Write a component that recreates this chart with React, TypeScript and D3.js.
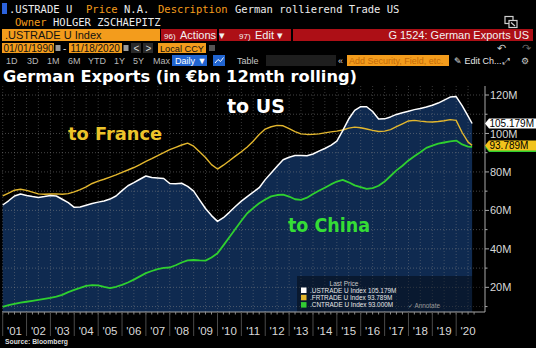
import React from "react";
import * as d3 from "d3";

// ---------- data (quarterly points, €bn 12-month rolling) ----------
const dates: string[] = [
  "2001-01","2001-04","2001-07","2001-10","2002-01","2002-04","2002-07","2002-10",
  "2003-01","2003-04","2003-07","2003-10","2004-01","2004-04","2004-07","2004-10",
  "2005-01","2005-04","2005-07","2005-10","2006-01","2006-04","2006-07","2006-10",
  "2007-01","2007-04","2007-07","2007-10","2008-01","2008-04","2008-07","2008-10",
  "2009-01","2009-04","2009-07","2009-10","2010-01","2010-04","2010-07","2010-10",
  "2011-01","2011-04","2011-07","2011-10","2012-01","2012-04","2012-07","2012-10",
  "2013-01","2013-04","2013-07","2013-10","2014-01","2014-04","2014-07","2014-10",
  "2015-01","2015-04","2015-07","2015-10","2016-01","2016-04","2016-07","2016-10",
  "2017-01","2017-04","2017-07","2017-10","2018-01","2018-04","2018-07","2018-10",
  "2019-01","2019-04","2019-07","2019-10","2020-01","2020-04","2020-07","2020-09",
];

const usValues: number[] = [
  62.8, 65.0, 67.5, 68.5, 67.8, 67.2, 66.7, 67.2,
  67.8, 67.5, 65.8, 64.0, 61.6, 61.8, 62.7, 63.6,
  64.3, 64.9, 65.9, 67.5, 70.3, 72.8, 74.4, 76.2,
  77.9, 77.1, 76.9, 76.6, 74.0, 73.8, 74.1, 72.5,
  70.0, 65.5, 61.0, 57.3, 54.3, 56.2, 59.0, 62.0,
  64.8, 67.2, 69.5, 71.8, 76.0, 79.5, 83.0, 86.3,
  87.6, 88.5, 88.5, 88.4, 89.3, 90.8, 92.2, 93.8,
  96.0, 101.5, 107.5, 112.0, 113.9, 113.9, 111.4, 107.5,
  107.6, 108.6, 109.9, 110.8, 111.6, 112.4, 113.0, 113.8,
  114.7, 115.8, 117.3, 118.9, 119.2, 114.5, 109.0, 105.179,
];

const frValues: number[] = [
  67.5, 69.0, 70.5, 71.0, 70.4, 69.5, 68.6, 68.4,
  68.5, 68.6, 68.4, 68.7, 69.6, 70.8, 72.2, 74.0,
  75.2, 76.2, 77.3, 78.5, 79.8, 81.0, 82.3, 83.8,
  85.5, 86.9, 88.5, 90.0, 91.6, 92.8, 94.0, 95.0,
  93.4, 90.5, 87.5, 83.8, 81.5, 83.5, 85.8, 88.2,
  90.5, 93.0, 96.0, 99.5, 102.3, 103.5, 104.2, 104.0,
  102.5, 101.0, 99.8, 99.5, 99.6, 99.8, 100.3, 100.8,
  101.2, 101.8, 102.8, 103.3, 103.0, 102.3, 101.6, 101.0,
  101.2, 102.0, 103.5, 105.0, 106.5, 106.8, 106.4, 106.1,
  106.0, 106.2, 106.6, 107.2, 106.8, 100.5, 95.5, 93.789,
];

const cnValues: number[] = [
  9.9, 10.7, 11.4, 12.0, 12.5, 13.0, 13.5, 14.0,
  14.5, 15.2, 16.1, 17.5, 18.7, 19.7, 20.8, 21.2,
  21.0, 20.2, 19.6, 20.3, 21.3, 22.5, 24.0, 25.7,
  27.4, 28.5, 29.5, 30.1, 30.3, 31.5, 32.9, 34.0,
  34.2, 34.0, 33.9, 35.5, 37.7, 41.8, 46.0, 50.3,
  54.6, 58.5, 61.2, 63.7, 65.7, 67.3, 68.0, 68.2,
  67.2, 65.8, 65.5, 66.6, 68.5, 70.2, 71.8, 73.5,
  75.0, 75.9, 74.6, 73.0, 72.1, 71.2, 71.6, 72.8,
  75.0, 77.9, 80.8, 83.2, 86.0, 88.1, 90.2, 92.5,
  93.7, 94.7, 95.3, 95.9, 96.3, 94.3, 93.2, 93.0,
];

const yearLabels: string[] = [
  "'01","'02","'03","'04","'05","'06","'07","'08","'09","'10",
  "'11","'12","'13","'14","'15","'16","'17","'18","'19","'20",
];
const yTicks: number[] = [20, 40, 60, 80, 100, 120];
const legendRows: { name: string; value: string; color: string }[] = [
  { name: ".USTRADE U Index", value: "105.179M", color: "#ffffff" },
  { name: ".FRTRADE U Index", value: "93.789M", color: "#e3b72e" },
  { name: ".CNTRADE U Index", value: "93.000M", color: "#33cc33" },
];
const periodButtons: string[] = ["1D", "3D", "1M", "6M", "YTD", "1Y", "5Y", "Max"];

// ---------- layout ----------
const W = 536, H = 348;
const plotLeft = 2, plotRight = 485, plotTop = 86, plotBottom = 312;
const parse = d3.timeParse("%Y-%m");
const parsedDates = dates.map((d) => parse(d) as Date);

const x = d3.scaleTime()
  .domain([new Date(2001, 0, 1), new Date(2021, 0, 1)])
  .range([2.7, 480.1]);
const y = d3.scaleLinear().domain([0, 120]).range([325.8, 95]);

const US = "#ffffff", FR = "#e3b72e", CN = "#2fd02f";
const ORANGE = "#f39c1c", RED = "#ad0f16";
const mono = "'DejaVu Sans Mono', monospace";
const sans = "'Liberation Sans', Arial, sans-serif";
const bold = "'DejaVu Sans', Verdana, sans-serif";

export default function App() {
  const line = (vals: number[]) =>
    d3.line<number>()
      .x((_, i) => x(parsedDates[i]))
      .y((v) => y(v))
      .curve(d3.curveLinear)(vals) as string;

  const area = d3.area<number>()
    .x((_, i) => x(parsedDates[i]))
    .y0(plotBottom)
    .y1((v) => y(v))(usValues) as string;

  const years = d3.range(2001, 2021);
  const halfYears = d3.timeMonth.every(6)!.range(new Date(2001, 0, 1), new Date(2021, 0, 1));
  const quarters = d3.timeMonth.every(3)!.range(new Date(2001, 0, 1), new Date(2021, 0, 1));
  const gridVals = d3.range(10, 121, 10);

  const tag = (v: number, fill: string, label: string, textFill: string) => {
    const cy = y(v);
    const p = `M${plotRight},${cy} L${plotRight + 4},${cy - 5} L${W},${cy - 5} L${W},${cy + 5} L${plotRight + 4},${cy + 5} Z`;
    return (
      <g>
        <path d={p} fill={fill} />
        <text x={plotRight + 4.5} y={cy + 3.4} fontFamily={sans} fontSize={10} fill={textFill}>{label}</text>
      </g>
    );
  };

  return (
    <>
      <style>{`body{margin:0;background:#000}`}</style>
      <svg width={W} height={H} style={{ display: "block", background: "#000" }}>
        <rect x={0} y={0} width={W} height={H} fill="#000" />

        {/* ---------- header row 1 ---------- */}
        <rect x={2} y={3} width={5} height={11} fill="#2c62dc" />
        <g fontFamily={mono} fontSize={10.5}>
          <text x={9} y={12.5} fill="#ececec">.USTRADE U</text>
          <text x={86} y={12.5} fill={ORANGE}>Price</text>
          <text x={124} y={12.5} fill="#ececec">N.A.</text>
          <text x={158} y={12.5} fill={ORANGE}>Description</text>
          <text x={235} y={12.5} fill="#ececec">German rollierend Trade US</text>
          <text x={15} y={25.5} fill={ORANGE}>Owner</text>
          <text x={53} y={25.5} fill="#ececec">HOLGER ZSCHAEPITZ</text>
        </g>
        <g stroke="#cfcfcf" strokeWidth={1.2} fill="none">
          <rect x={505} y={16.5} width={8} height={7} />
          <rect x={509} y={20.5} width={8} height={7} fill="#000" />
          <path d="M511,22.5 L515,26" />
        </g>

        {/* ---------- header row 2 (orange/red bar) ---------- */}
        <rect x={2} y={29} width={158} height={12} fill={ORANGE} />
        <text x={5} y={38.8} fontFamily={sans} fontSize={11} fill="#111">.USTRADE U Index</text>
        <rect x={161} y={29} width={372} height={12} fill={RED} />
        <rect x={217} y={29} width={2} height={12} fill="#000" />
        <rect x={291} y={29} width={2} height={12} fill="#000" />
        <g fontFamily={sans} fill="#f2f2f2">
          <text x={164} y={38.5} fontSize={8}>96)</text>
          <text x={180} y={38.8} fontSize={11}>Actions ▾</text>
          <text x={239} y={38.5} fontSize={8}>97)</text>
          <text x={255} y={38.8} fontSize={11}>Edit ▾</text>
          <text x={529} y={38.8} fontSize={11} textAnchor="end">G 1524: German Exports US</text>
        </g>

        {/* ---------- header row 3 (dates) ---------- */}
        <g fontFamily={sans} fontSize={10}>
          <rect x={2} y={43} width={52} height={10} fill={ORANGE} />
          <text x={3.5} y={51.5} fill="#111">01/01/1990</text>
          <rect x={55.5} y={45} width={5} height={6} fill="#9a9a9a" />
          <text x={63} y={51.5} fill="#ddd">-</text>
          <rect x={69} y={43} width={53} height={10} fill={ORANGE} />
          <text x={70.5} y={51.5} fill="#111">11/18/2020</text>
          <rect x={123.5} y={45} width={5} height={6} fill="#9a9a9a" />
          <rect x={131} y={43} width={10} height={10} fill="#2a2a2a" />
          <text x={133.5} y={51.5} fill="#ddd">&lt;</text>
          <rect x={143} y={43} width={10} height={10} fill="#2a2a2a" />
          <text x={145.5} y={51.5} fill="#ddd">&gt;</text>
          <rect x={158} y={43} width={48} height={10} fill={ORANGE} />
          <text x={160} y={51.5} fill="#111" fontSize={9.5} textLength={44} lengthAdjust="spacingAndGlyphs">Local CCY</text>
          <rect x={209} y={45} width={6} height={6} fill="#555" />
          <text x={497} y={52} fill="#cfcfcf" fontSize={11}>↶</text>
          <text x={522} y={52} fill="#666" fontSize={11}>↷</text>
        </g>

        {/* ---------- header row 4 (buttons) ---------- */}
        <g fontFamily={sans} fontSize={9}>
          {periodButtons.map((b, i) => (
            <text key={b} x={[6, 27, 47, 68, 88, 114, 133, 153][i]} y={64} fill="#b8b8b8">{b}</text>
          ))}
          <rect x={172} y={55} width={35} height={11} fill="#2165d1" />
          <text x={175} y={64} fill="#fff">Daily ▼</text>
          <rect x={213} y={55} width={12} height={11} fill="#2165d1" />
          <path d="M215,63 L218,59.5 L220.5,61.5 L223.5,57.5" stroke="#fff" fill="none" strokeWidth={1} />
          <text x={237} y={64} fill="#c8c8c8">Table</text>
          <rect x={266} y={55} width={70} height={11} fill="#1e1e1e" />
          <text x={338} y={64} fill="#ddd">«</text>
          <rect x={347} y={55} width={102} height={11} fill={ORANGE} />
          <text x={349} y={64} fill="#c46a08">Add Security, Field, etc.</text>
          <text x={454} y={64} fill="#e6e6e6">✎ Edit Ch...</text>
          <text x={503} y={64} fill="#ccc">⤢</text>
          <text x={521} y={64} fill="#ccc">⚙</text>
        </g>

        {/* ---------- title ---------- */}
        <text x={3} y={82} fontFamily={bold} fontWeight="bold" fontSize={16.2} fill="#fff"
          textLength={354} lengthAdjust="spacingAndGlyphs">German Exports (in €bn 12mth rolling)</text>

        {/* ---------- plot ---------- */}
        <defs>
          <clipPath id="plotClip">
            <rect x={plotLeft} y={plotTop} width={plotRight - plotLeft} height={plotBottom - plotTop} />
          </clipPath>
        </defs>
        <g clipPath="url(#plotClip)">
          <path d={area} fill="#0f2a50" />
          {gridVals.map((v) => (
            <line key={"h" + v} x1={plotLeft} x2={plotRight} y1={y(v)} y2={y(v)}
              stroke="#8a8a8a" strokeOpacity={0.5} strokeWidth={1} strokeDasharray="1 2" />
          ))}
          {halfYears.map((d, i) => (
            <line key={"v" + i} x1={x(d)} x2={x(d)} y1={plotTop} y2={plotBottom}
              stroke="#8a8a8a" strokeOpacity={0.4} strokeWidth={1} strokeDasharray="1 2" />
          ))}
          <path d={line(frValues)} fill="none" stroke={FR} strokeWidth={1.4} strokeLinejoin="round" />
          <path d={line(cnValues)} fill="none" stroke={CN} strokeWidth={1.8} strokeLinejoin="round" />
          <path d={line(usValues)} fill="none" stroke={US} strokeWidth={1.5} strokeLinejoin="round" />
        </g>

        {/* annotations */}
        <text x={227} y={112.7} fontFamily={bold} fontWeight="bold" fontSize={19} fill="#fff"
          textLength={58} lengthAdjust="spacingAndGlyphs">to US</text>
        <text x={68} y={140.3} fontFamily={bold} fontWeight="bold" fontSize={18.3} fill="#ecc42a"
          textLength={94} lengthAdjust="spacingAndGlyphs">to France</text>
        <text x={288} y={232} fontFamily={bold} fontWeight="bold" fontSize={18.8} fill="#35dd35"
          textLength={82} lengthAdjust="spacingAndGlyphs">to China</text>

        {/* legend */}
        <rect x={297} y={276} width={plotRight - 297} height={plotBottom - 276} fill="#000" fillOpacity={0.4} />
        <text x={344} y={285.5} fontFamily={sans} fontSize={6.5} fill="#c8c8c8" textAnchor="middle">Last Price</text>
        {legendRows.map((r, i) => (
          <g key={r.name}>
            <rect x={301} y={287.5 + i * 7.3} width={5.5} height={5.5} fill={r.color} />
            <text x={310} y={292.8 + i * 7.3} fontFamily={sans} fontSize={6.4} fill="#e8e8e8">
              {r.name + " " + r.value}
            </text>
          </g>
        ))}
        <text x={408} y={307.5} fontFamily={sans} fontSize={6.4} fill="#9a9a9a">✓  Annotate</text>

        {/* x axis */}
        <line x1={plotLeft} x2={plotRight} y1={plotBottom} y2={plotBottom} stroke="#a8a8a8" strokeWidth={1} />
        {quarters.map((d, i) => (
          <line key={"q" + i} x1={x(d)} x2={x(d)} y1={plotBottom} y2={plotBottom + 2.5} stroke="#8a8a8a" />
        ))}
        {years.map((yr) => (
          <line key={"ys" + yr} x1={x(new Date(yr, 0, 1))} x2={x(new Date(yr, 0, 1))}
            y1={plotBottom} y2={plotBottom + 24} stroke="#4a4a4a" />
        ))}
        {years.map((yr, i) => (
          <text key={"yl" + yr} x={x(new Date(yr, 6, 1))} y={334.5} fontFamily={sans} fontSize={11.5}
            fill="#d8d8d8" textAnchor="middle">{yearLabels[i]}</text>
        ))}

        {/* y axis (right) */}
        <line x1={plotRight} x2={plotRight} y1={plotTop} y2={plotBottom} stroke="#a8a8a8" strokeWidth={1} />
        {gridVals.map((v) => (
          <line key={"yt" + v} x1={plotRight} x2={plotRight + (v % 20 === 0 ? 4 : 2.5)} y1={y(v)} y2={y(v)} stroke="#a8a8a8" />
        ))}
        {yTicks.map((v) => (
          <text key={"yl" + v} x={plotRight + 5} y={y(v) + (v === 100 ? 5 : 4)} fontFamily={sans} fontSize={11} fill="#d8d8d8">{v}M</text>
        ))}

        {/* last value tags */}
        {tag(cnValues[cnValues.length - 1], CN, "93.000M", "#000")}
        {tag(frValues[frValues.length - 1], "#f2c31c", "93.789M", "#000")}
        {tag(usValues[usValues.length - 1], "#ffffff", "105.179M", "#000")}

        {/* source */}
        <text x={5} y={344} fontFamily={sans} fontWeight="bold" fontSize={7.5} fill="#dcdcdc"
          textLength={63} lengthAdjust="spacingAndGlyphs">Source: Bloomberg</text>
      </svg>
    </>
  );
}
